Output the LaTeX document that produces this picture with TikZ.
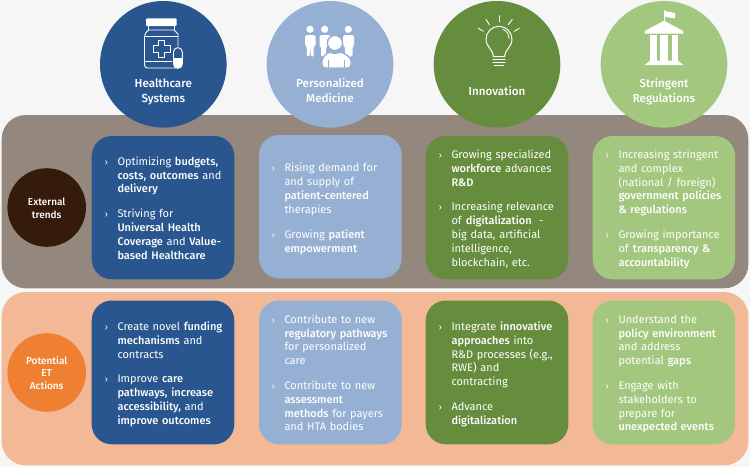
\documentclass[tikz,border=0pt]{standalone}
\usepackage{fontspec}
\setmainfont{Fira Sans}[BoldFont={Fira Sans Medium}]
\definecolor{pagebg}{HTML}{F6F6F6}
\definecolor{brownband}{HTML}{94887E}
\definecolor{orangeband}{HTML}{F3B895}
\definecolor{cblue}{HTML}{2A568F}
\definecolor{clight}{HTML}{95B0D2}
\definecolor{cgreen}{HTML}{658D3D}
\definecolor{clgreen}{HTML}{A4C77F}
\definecolor{cdark}{HTML}{351B0A}
\definecolor{corange}{HTML}{F08031}
\tikzset{
  band/.style={rounded corners=24pt,draw=none},
  card/.style={rounded corners=20pt,draw=none},
  topcirc/.style={circle,draw=none,minimum size=126.6pt,inner sep=0pt},
  sidecirc/.style={circle,draw=none,minimum size=78.6pt,inner sep=0pt},
  headlab/.style={text=white,font=\bfseries\fontsize{11.6}{14.7}\selectfont,align=center,inner sep=0pt,anchor=north},
  sidelab/.style={text=white,font=\bfseries\fontsize{10}{12.7}\selectfont,align=center,inner sep=0pt,anchor=north},
  bodytxt/.style={text=white,font=\fontsize{11}{13.8}\selectfont,align=left,inner sep=0pt,anchor=north west,text width=130pt},
  marktxt/.style={text=white,font=\fontsize{9}{13.8}\selectfont,inner sep=0pt,anchor=base},
  iconline/.style={draw=white,line width=0.9pt,line join=round,line cap=round},
  iconfill/.style={fill=white,draw=none},
}
\newcommand{\Para}[4]{%
  \node[marktxt] (#1m) at (#2-10.8,#3) {›};
  \node[bodytxt] (#1) at (#2,#3-9.66) {\strut #4\strut};
}
\begin{document}
\begin{tikzpicture}[x=1pt,y=-1pt]
\useasboundingbox (0,0) rectangle (750,467);
\fill[pagebg] (0,0) rectangle (750,467);
% bands
\fill[brownband,band] (1.7,115) rectangle (748.3,288.3);
\fill[orangeband,band] (1.7,292) rectangle (748.3,465.3);
% top circles
\node[topcirc,fill=cblue] (c1) at (163.3,64.3) {};
\node[topcirc,fill=clight] (c2) at (330,64.3) {};
\node[topcirc,fill=cgreen] (c3) at (497,64.3) {};
\node[topcirc,fill=clgreen] (c4) at (664,64.3) {};
\node[headlab] (h1) at (163.3,77.2) {\strut Healthcare\\\strut Systems};
\node[headlab] (h2) at (330,77.2) {\strut Personalized\\\strut Medicine};
\node[headlab] (h3) at (497,85) {\strut Innovation};
\node[headlab] (h4) at (664,77.2) {\strut Stringent\\\strut Regulations};
% side circles
\node[sidecirc,fill=cdark] (s1) at (46.7,207.5) {};
\node[sidecirc,fill=corange] (s2) at (46.7,372.5) {};
\node[sidelab] (s1t) at (46.7,196.8) {\strut External\\\strut trends};
\node[sidelab] (s2t) at (46.7,355.1) {\strut Potential\\\strut ET\\\strut Actions};
% cards
\fill[cblue,card] (91.7,136) rectangle (234.3,279.3);
\fill[clight,card] (259,135) rectangle (401.7,278.3);
\fill[cgreen,card] (425.7,136) rectangle (568.3,279.3);
\fill[clgreen,card] (592.7,136) rectangle (735,279.3);
\fill[cblue,card] (91.7,300.5) rectangle (234.3,444.3);
\fill[clight,card] (259,300.5) rectangle (401.7,444.3);
\fill[cgreen,card] (425.7,300.5) rectangle (568.3,444.3);
\fill[clgreen,card] (592.7,300.5) rectangle (735,444.3);
% card texts
\Para{a1}{117.3}{165}{Optimizing \textbf{budgets,}\\\textbf{costs, outcomes} and\\\textbf{delivery}}
\Para{a2}{117.3}{217.7}{Striving for\\\textbf{Universal Health}\\\textbf{Coverage} and \textbf{Value-}\\\textbf{based Healthcare}}
\Para{b1}{284.3}{171.7}{Rising demand for\\and supply of\\\textbf{patient-centered}\\therapies}
\Para{b2}{284.3}{238}{Growing \textbf{patient}\\\textbf{empowerment}}
\Para{d1}{451.3}{158.3}{Growing specialized\\\textbf{workforce} advances\\\textbf{R\&D}}
\Para{d2}{451.3}{210.7}{Increasing relevance\\of \textbf{digitalization}~~-\\big data, artificial\\intelligence,\\blockchain, etc.}
\Para{e1}{618.3}{158.3}{Increasing stringent\\and complex\\(national / foreign)\\\textbf{government policies}\\\textbf{\& regulations}}
\Para{e2}{618.3}{238.3}{Growing importance\\of \textbf{transparency \&}\\\textbf{accountability}}
\Para{f1}{117.3}{330.3}{Create novel \textbf{funding}\\\textbf{mechanisms} and\\contracts}
\Para{f2}{117.3}{382.7}{Improve \textbf{care}\\\textbf{pathways, increase}\\\textbf{accessibility,} and\\\textbf{improve outcomes}}
\Para{g1}{284.3}{323}{Contribute to new\\\textbf{regulatory pathways}\\for personalized\\care}
\Para{g2}{284.3}{389.3}{Contribute to new\\\textbf{assessment}\\\textbf{methods} for payers\\and HTA bodies}
\Para{k1}{451.3}{330.3}{Integrate \textbf{innovative}\\\textbf{approaches} into\\R\&D processes (e.g.,\\RWE) and\\contracting}
\Para{k2}{451.3}{410}{Advance\\\textbf{digitalization}}
\Para{m1}{618.3}{323}{Understand the\\\textbf{policy environment}\\and address\\potential \textbf{gaps}}
\Para{m2}{618.3}{389.3}{Engage with\\stakeholders to\\prepare for\\\textbf{unexpected events}}
% icon: medicine bottle
\fill[white,rounded corners=1pt] (146,18.3) rectangle (176.7,26);
\draw[iconline] (148.5,26) -- (148.5,30);
\draw[iconline] (174.5,26) -- (174.5,30);
\draw[iconline,rounded corners=3pt] (148.5,30) -- (144.5,34) -- (144.5,68) -- (176,68);
\draw[iconline] (148.5,30) -- (174,30) -- (178,34) -- (178,46);
\draw[iconline] (144.5,36.5) -- (178,36.5) (144.5,61.7) -- (172,61.7);
\draw[iconline,fill=cblue] (158.6,40.5) -- (164.8,40.5) -- (164.8,45.9) -- (170.2,45.9) -- (170.2,52.1) -- (164.8,52.1) -- (164.8,57.5) -- (158.6,57.5) -- (158.6,52.1) -- (153.2,52.1) -- (153.2,45.9) -- (158.6,45.9) -- cycle;
\draw[iconline,fill=cblue] (173.5,52) arc[start angle=180,end angle=360,radius=4.4] -- (182.3,64) arc[start angle=0,end angle=180,radius=4.4] -- cycle;
\fill[white] (173.5,58) -- (182.3,58) -- (182.3,64) arc[start angle=0,end angle=180,radius=4.4] -- cycle;
% icon: people
\fill[white] (310,29.3) circle[radius=3.6];
\fill[white] (324.7,29.3) circle[radius=3.6];
\fill[white] (348.3,29.3) circle[radius=3.6];
\fill[white,rounded corners=1.5pt] (305,35) -- (315.5,35) -- (315.5,46) -- (313.7,46) -- (313.7,56.7) -- (311,56.7) -- (310.2,47) -- (309.5,56.7) -- (306.8,56.7) -- (306.8,46) -- (305,46) -- cycle;
\fill[white,rounded corners=1.5pt] (319.5,35) -- (330.5,35) -- (330.5,46) -- (326,46) -- (326,56.7) -- (321,56.7) -- (321,46) -- (319.5,46) -- cycle;
\fill[white,rounded corners=1.5pt] (343,35) -- (354,35) -- (354,46) -- (352.5,46) -- (352.5,56.7) -- (345,56.7) -- (345,46) -- (343,46) -- cycle;
\fill[white,draw=clight,line width=1.4pt] (335,43) circle[radius=7.6];
\fill[white,draw=clight,line width=1.4pt,rounded corners=3pt] (322,68) -- (322,58) -- (329,51.5) -- (335,54) -- (341,51.5) -- (351,58) -- (351,68) -- cycle;
\draw[clight,line width=0.8pt] (328.5,60) -- (328.5,68) (344,60) -- (344,68);
% icon: bulb
\draw[iconline,line width=1pt] (493.5,56.5) .. controls (493.5,50) and (486,47) .. (486,39.3) arc[start angle=180,end angle=360,radius=13] .. controls (512,47) and (504.5,50) .. (504.5,56.5) -- cycle;
\draw[iconline,line width=0.8pt] (503,29.5) .. controls (506.5,30.5) and (509,34) .. (509,38.5);
\draw[iconline,line width=1.1pt] (493,59.2) -- (505,59.2) (493,62.2) -- (505,62.2) (494.5,65.5) -- (503.5,65.5);
\draw[iconline] (499,15.7) -- (499,21.7);
\draw[iconline] (486,19.3) -- (489.3,24.7);
\draw[iconline] (512.3,19.3) -- (508.3,24.7);
\draw[iconline] (478.3,28.3) -- (483.3,31.3);
\draw[iconline] (519.3,28.3) -- (514.3,31.3);
% icon: temple
\draw[white,line width=0.8pt] (664,10) -- (664,21);
\fill[white] (664.6,11) -- (675,13) -- (675,18.3) -- (664.6,16.8) -- cycle;
\fill[white] (664,20.7) -- (683,30.8) -- (683.3,33.5) -- (644.8,33.5) -- (645,30.8) -- cycle;
\fill[white] (650,35) rectangle (657,60.7);
\fill[white] (660,35) rectangle (668,60.7);
\fill[white] (671.5,35) rectangle (677.5,60.7);
\fill[white] (650,60.7) -- (678,60.7) -- (683.3,65) -- (644.8,65) -- cycle;
\end{tikzpicture}
\end{document}
